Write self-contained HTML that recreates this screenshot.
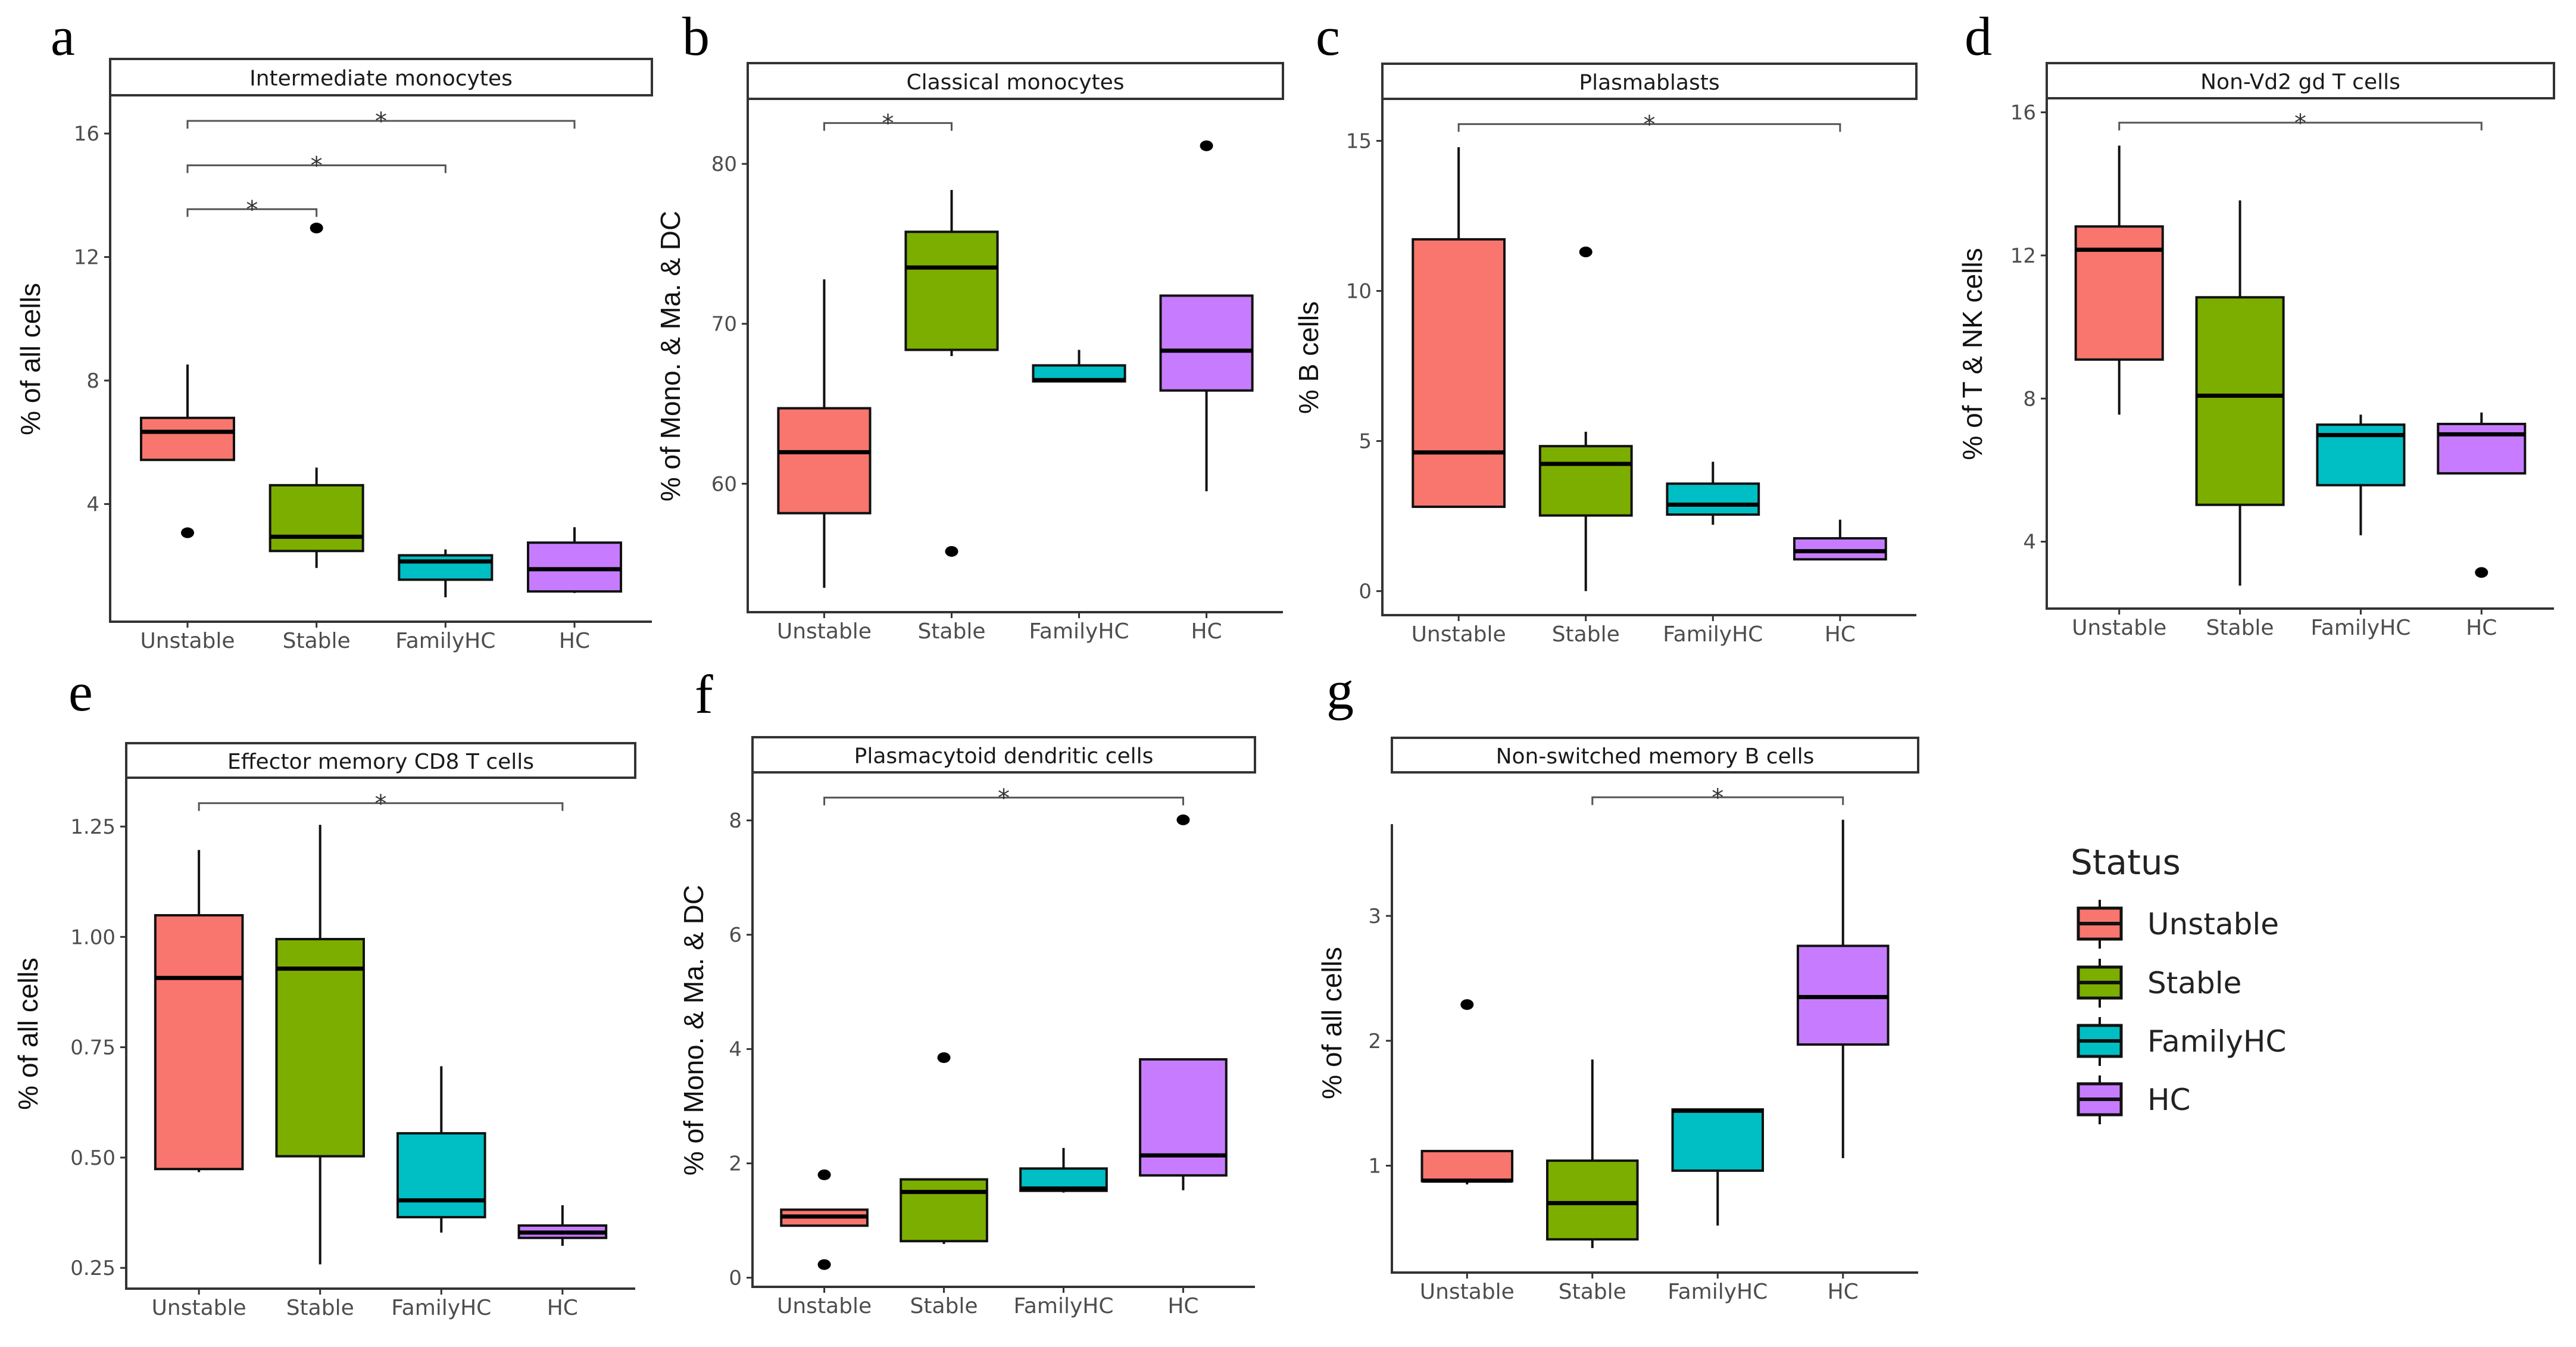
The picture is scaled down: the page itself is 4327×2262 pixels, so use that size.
<!DOCTYPE html>
<html><head><meta charset="utf-8"><style>
html,body{margin:0;padding:0;background:#fff;}
svg{display:block;}
</style></head><body>
<svg id="fig" xmlns="http://www.w3.org/2000/svg" width="4327" height="2262" viewBox="0 0 4327 2262">
<rect x="0" y="0" width="4327" height="2262" fill="#fff"/>
<g font-family="'Liberation Serif', serif" font-size="92" fill="#000">
<text x="85" y="92">a</text>
<text x="1146" y="92">b</text>
<text x="2210" y="92">c</text>
<text x="3300" y="92">d</text>
<text x="115" y="1193">e</text>
<text x="1167" y="1197">f</text>
<text x="2228" y="1190">g</text>
</g>
<g font-family="'DejaVu Sans', sans-serif">
<text x="3478" y="1468" font-size="58" fill="#222">Status</text>
<g id="legendItems"></g>
</g>
</svg>
<script>
const categories = ["Unstable","Stable","FamilyHC","HC"];
const colors = ["#F8766D","#7CAE00","#00BFC4","#C77CFF"];

// Panel a: Intermediate monocytes
const aLow = [5.43, 1.93, 0.98, 1.12];
const aQ1 = [5.43, 2.48, 1.55, 1.17];
const aMed = [6.34, 2.94, 2.14, 1.89];
const aQ3 = [6.79, 4.61, 2.34, 2.75];
const aHigh = [8.52, 5.18, 2.53, 3.25];
const aOut = [[0, 3.07], [1, 12.94]];
const aTicks = [4, 8, 12, 16];
const aBrackets = [[0, 1, 13.55], [0, 2, 14.97], [0, 3, 16.41]];

// Panel b: Classical monocytes
const bLow = [53.49, 67.98, 66.4, 59.53];
const bQ1 = [58.16, 68.37, 66.4, 65.83];
const bMed = [61.97, 73.52, 66.48, 68.32];
const bQ3 = [64.72, 75.75, 67.4, 71.76];
const bHigh = [72.78, 78.37, 68.37, 71.76];
const bOut = [[1, 55.77], [3, 81.13]];
const bTicks = [60, 70, 80];
const bBrackets = [[0, 1, 82.55]];

// Panel c: Plasmablasts
const cLow = [2.81, 0, 2.21, 1.06];
const cQ1 = [2.81, 2.52, 2.55, 1.06];
const cMed = [4.62, 4.24, 2.88, 1.33];
const cQ3 = [11.72, 4.83, 3.58, 1.76];
const cHigh = [14.79, 5.31, 4.31, 2.38];
const cOut = [[1, 11.3]];
const cTicks = [0, 5, 10, 15];
const cBrackets = [[0, 3, 15.56]];

// Panel d: Non-Vd2 gd T cells
const dLow = [7.55, 2.77, 4.18, 5.91];
const dQ1 = [9.09, 5.03, 5.58, 5.91];
const dMed = [12.16, 8.08, 6.98, 7.0];
const dQ3 = [12.81, 10.83, 7.27, 7.29];
const dHigh = [15.07, 13.54, 7.55, 7.61];
const dOut = [[3, 3.14]];
const dTicks = [4, 8, 12, 16];
const dBrackets = [[0, 3, 15.71]];

// Panel e: Effector memory CD8 T cells
const eLow = [0.467, 0.258, 0.33, 0.30];
const eQ1 = [0.474, 0.503, 0.365, 0.318];
const eMed = [0.907, 0.928, 0.403, 0.33];
const eQ3 = [1.049, 0.995, 0.555, 0.346];
const eHigh = [1.197, 1.254, 0.707, 0.392];
const eOut = [];
const eTicks = ["0.25", "0.50", "0.75", "1.00", "1.25"];
const eBrackets = [[0, 3, 1.303]];

// Panel f: Plasmacytoid dendritic cells
const fLow = [0.91, 0.59, 1.49, 1.53];
const fQ1 = [0.91, 0.64, 1.52, 1.79];
const fMed = [1.07, 1.50, 1.56, 2.14];
const fQ3 = [1.19, 1.72, 1.91, 3.82];
const fHigh = [1.19, 1.72, 2.27, 3.82];
const fOut = [[0, 1.8], [0, 0.23], [1, 3.85], [3, 8.01]];
const fTicks = [0, 2, 4, 6, 8];
const fBrackets = [[0, 3, 8.40]];

// Panel g: Non-switched memory B cells
const gLow = [0.85, 0.34, 0.52, 1.06];
const gQ1 = [0.876, 0.41, 0.96, 1.97];
const gMed = [0.88, 0.70, 1.44, 2.35];
const gQ3 = [1.117, 1.04, 1.45, 2.76];
const gHigh = [1.117, 1.85, 1.45, 3.77];
const gOut = [[0, 2.29]];
const gTicks = [1, 2, 3];
const gBrackets = [[1, 3, 3.95]];

const NS = "http://www.w3.org/2000/svg";
const svg = document.getElementById("fig");
function mk(tag, attrs, parent) {
  const el = document.createElementNS(NS, tag);
  for (const k in attrs) el.setAttribute(k, attrs[k]);
  (parent || svg).appendChild(el);
  return el;
}

function drawPanel(id, title, ytitle, L, T, R, B, lo, hi, stripTop, titleX, axisTop,
                   low, q1, med, q3, high, outs, ticks, brackets) {
  const g = mk("g", {});
  
  
  const y = v => B - (v - lo) / (hi - lo) * (B - T);
  const step = (R - L) / 4.2;
  const x = i => L + (i + 0.6) * step;
  const hw = step * 0.36;

  const strip = mk("rect", {x: L, y: stripTop, width: R - L, height: T - stripTop - 2, fill: "#fff", stroke: "#333", "stroke-width": 4}, g);
  
  
  const st = mk("text", {x: (L + R) / 2, y: stripTop + (T - stripTop) / 2 + 13, "text-anchor": "middle", "font-family": "'DejaVu Sans', sans-serif", "font-size": 36, fill: "#1a1a1a"}, g);
  st.textContent = title;
  
  

  const ya = mk("line", {x1: L, y1: axisTop, x2: L, y2: B, stroke: "#333", "stroke-width": 4}, g);
  
  
  const xa = mk("line", {x1: L - 2, y1: B, x2: R, y2: B, stroke: "#333", "stroke-width": 4}, g);
  
  

  ticks.forEach(t => {
    const v = parseFloat(t);
    const tl = mk("line", {x1: L - 10, y1: y(v), x2: L, y2: y(v), stroke: "#333", "stroke-width": 3}, g);
    
    
    const tx = mk("text", {x: L - 18, y: y(v) + 12, "text-anchor": "end", "font-family": "'DejaVu Sans', sans-serif", "font-size": 34, fill: "#4d4d4d"}, g);
    tx.textContent = t;
    
    
  });
  categories.forEach((c, i) => {
    const tl = mk("line", {x1: x(i), y1: B, x2: x(i), y2: B + 10, stroke: "#333", "stroke-width": 3}, g);
    
    
    const tx = mk("text", {x: x(i), y: B + 44, "text-anchor": "middle", "font-family": "'DejaVu Sans', sans-serif", "font-size": 36, fill: "#4d4d4d"}, g);
    tx.textContent = c;
    
    
  });
  const yt = mk("text", {x: 0, y: 0, "text-anchor": "middle", "font-family": "'Liberation Sans', sans-serif", "font-size": 46, fill: "#111",
    transform: "translate(" + titleX + "," + ((T + B) / 2) + ") rotate(-90)"}, g);
  yt.textContent = ytitle;
  
  

  categories.forEach((c, i) => {
    const w1 = mk("line", {x1: x(i), y1: y(high[i]), x2: x(i), y2: y(q3[i]), stroke: "#111", "stroke-width": 4}, g);
    
    
    const w2 = mk("line", {x1: x(i), y1: y(q1[i]), x2: x(i), y2: y(low[i]), stroke: "#111", "stroke-width": 4}, g);
    
    
    const bx = mk("rect", {x: x(i) - hw, y: y(q3[i]), width: hw * 2, height: Math.max(1, y(q1[i]) - y(q3[i])), fill: colors[i], stroke: "#111", "stroke-width": 4}, g);
    
    
    const md = mk("line", {x1: x(i) - hw, y1: y(med[i]), x2: x(i) + hw, y2: y(med[i]), stroke: "#000", "stroke-width": 7}, g);
    
    
  });
  outs.forEach(o => {
    const p = mk("ellipse", {cx: x(o[0]), cy: y(o[1]), rx: 11, ry: 9, fill: "#000"}, g);
    
    
  });
  brackets.forEach(b => {
    const yy = y(b[2]);
    const pl = mk("polyline", {points: x(b[0]) + "," + (yy + 13) + " " + x(b[0]) + "," + yy + " " + x(b[1]) + "," + yy + " " + x(b[1]) + "," + (yy + 13), fill: "none", stroke: "#555", "stroke-width": 3}, g);
    
    
    const s = mk("text", {x: (x(b[0]) + x(b[1])) / 2, y: yy + 14, "text-anchor": "middle", "font-family": "'DejaVu Sans', sans-serif", "font-size": 40, fill: "#333"}, g);
    s.textContent = "*";
    
    
  });
}

drawPanel("a", "Intermediate monocytes", "% of all cells", 185, 162, 1095, 1044, 0.19, 17.2, 99, 67, 162,
  aLow, aQ1, aMed, aQ3, aHigh, aOut, aTicks, aBrackets);
drawPanel("b", "Classical monocytes", "% of Mono. & Ma. & DC", 1256, 168, 2155, 1028, 51.97, 83.99, 106, 1142, 168,
  bLow, bQ1, bMed, bQ3, bHigh, bOut, bTicks, bBrackets);
drawPanel("c", "Plasmablasts", "% B cells", 2322, 168, 3219, 1033, -0.8, 16.36, 107, 2214, 168,
  cLow, cQ1, cMed, cQ3, cHigh, cOut, cTicks, cBrackets);
drawPanel("d", "Non-Vd2 gd T cells", "% of T & NK cells", 3438, 167, 4290, 1022, 2.13, 16.36, 106, 3329, 167,
  dLow, dQ1, dMed, dQ3, dHigh, dOut, dTicks, dBrackets);
drawPanel("e", "Effector memory CD8 T cells", "% of all cells", 212, 1308, 1067, 2164, 0.203, 1.358, 1248, 63, 1308,
  eLow, eQ1, eMed, eQ3, eHigh, eOut, eTicks, eBrackets);
drawPanel("f", "Plasmacytoid dendritic cells", "% of Mono. & Ma. & DC", 1264, 1299, 2108, 2161, -0.16, 8.82, 1238, 1181, 1299,
  fLow, fQ1, fMed, fQ3, fHigh, fOut, fTicks, fBrackets);
drawPanel("g", "Non-switched memory B cells", "% of all cells", 2338, 1299, 3222, 2137, 0.144, 4.14, 1239, 2253, 1384,
  gLow, gQ1, gMed, gQ3, gHigh, gOut, gTicks, gBrackets);

const lg = document.getElementById("legendItems");
const legendY = [1551, 1650, 1748, 1846];
categories.forEach((c, i) => {
  const cy = legendY[i];
  const item = mk("g", {}, lg);
  
  
  mk("line", {x1: 3527, y1: cy - 40, x2: 3527, y2: cy + 42, stroke: "#111", "stroke-width": 4}, item);
  mk("rect", {x: 3491, y: cy - 26, width: 72, height: 52, fill: colors[i], stroke: "#111", "stroke-width": 5}, item);
  mk("line", {x1: 3491, y1: cy, x2: 3563, y2: cy, stroke: "#111", "stroke-width": 6}, item);
  const t = mk("text", {x: 3607, y: cy + 18, "font-family": "'DejaVu Sans', sans-serif", "font-size": 50, fill: "#222"}, item);
  t.textContent = c;
  
  
});
</script>
</body></html>
